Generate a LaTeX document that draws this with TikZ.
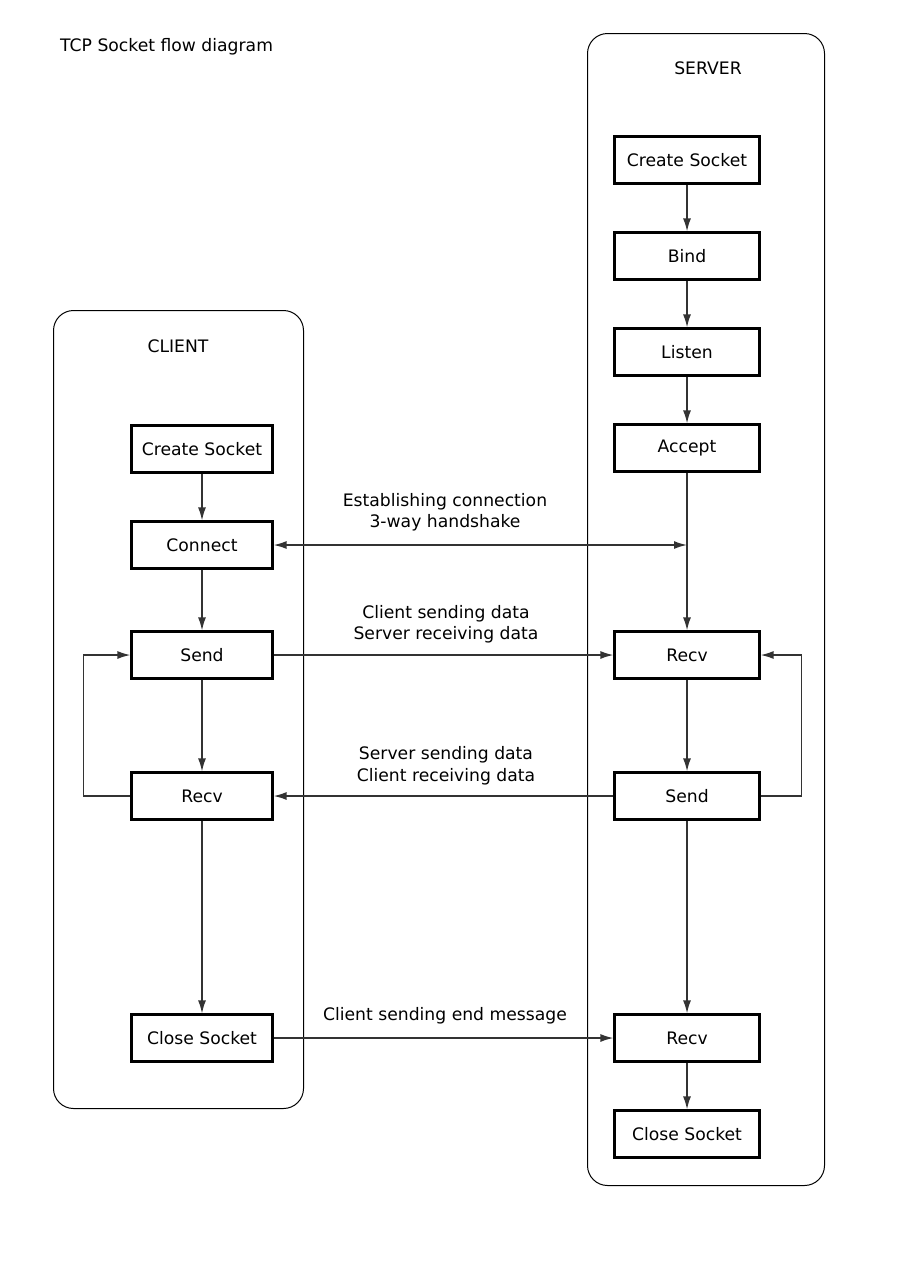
\documentclass[tikz,border=0pt]{standalone}
\usepackage{fontspec}
\setmainfont{DejaVu Sans}
\usetikzlibrary{arrows.meta}
\definecolor{linec}{HTML}{333333}
\tikzset{
  box/.style={draw=black, line width=2.1pt, minimum height=47pt, inner sep=0pt, fill=white},
  cbox/.style={box, minimum width=141pt},
  sbox/.style={box, minimum width=145pt},
  container/.style={draw=black, line width=1pt, rounded corners=20pt, inner sep=0pt, anchor=north west},
  arr/.style={draw=linec, line width=1.6pt, -{Latex[length=13pt,width=8pt]}},
  darr/.style={draw=linec, line width=1.6pt, {Latex[length=13pt,width=8pt]}-{Latex[length=13pt,width=8pt]}},
  lbl/.style={align=center, inner sep=0pt, font=\fontsize{17.2}{21.5}\selectfont},
}
\begin{document}
\begin{tikzpicture}[x=1pt,y=-1pt, font=\fontsize{17.2}{20}\selectfont]
\useasboundingbox (0,0) rectangle (900,1280);
\fill[white] (0,0) rectangle (900,1280);
% containers
\node[container, minimum width=250pt, minimum height=798pt] (client) at (53,310) {};
\node[container, minimum width=237pt, minimum height=1152pt] (server) at (587,33) {};
% titles
\node[anchor=west, inner sep=0pt] (title) at (60,47) {TCP Socket flow diagram};
\node[inner sep=0pt] (servert) at (708,68) {SERVER};
\node[inner sep=0pt] (clientt) at (178,346) {CLIENT};
% client boxes
\node[cbox] (ccs) at (202,449) {Create Socket};
\node[cbox] (ccon) at (202,545) {Connect};
\node[cbox] (csend) at (202,655) {Send};
\node[cbox] (crecv) at (202,796) {Recv};
\node[cbox] (cclose) at (202,1038) {Close Socket};
% server boxes
\node[sbox] (scs) at (687,160) {Create Socket};
\node[sbox] (sbind) at (687,256) {Bind};
\node[sbox] (slisten) at (687,352) {Listen};
\node[sbox] (saccept) at (687,448) {Accept};
\node[sbox] (srecv) at (687,655) {Recv};
\node[sbox] (ssend) at (687,796) {Send};
\node[sbox] (srecvb) at (687,1038) {Recv};
\node[sbox] (sclose) at (687,1134) {Close Socket};
% client vertical arrows
\draw[arr] (ccs) -- (ccon);
\draw[arr] (ccon) -- (csend);
\draw[arr] (csend) -- (crecv);
\draw[arr] (crecv) -- (cclose);
% server vertical arrows
\draw[arr] (scs) -- (sbind);
\draw[arr] (sbind) -- (slisten);
\draw[arr] (slisten) -- (saccept);
\draw[arr] (saccept) -- (srecv);
\draw[arr] (srecv) -- (ssend);
\draw[arr] (ssend) -- (srecvb);
\draw[arr] (srecvb) -- (sclose);
% loops
\draw[arr] (crecv.west) -- ++(-47,0) |- (csend.west);
\draw[arr] (ssend.east) -- ++(41,0) |- (srecv.east);
% cross arrows
\coordinate (hs) at (saccept.south |- ccon.east);
\draw[darr] (ccon.east) -- (hs);
\draw[arr] (csend.east) -- (srecv.west);
\draw[arr] (ssend.west) -- (crecv.east);
\draw[arr] (cclose.east) -- (srecvb.west);
% labels
\node[lbl] (l1) at (445,512) {Establishing connection\\3-way handshake};
\node[lbl] (l2) at (446,624) {Client sending data\\Server receiving data};
\node[lbl] (l3) at (446,765.5) {Server sending data\\Client receiving data};
\node[lbl] (l4) at (445,1016) {Client sending end message};
\end{tikzpicture}
\end{document}
